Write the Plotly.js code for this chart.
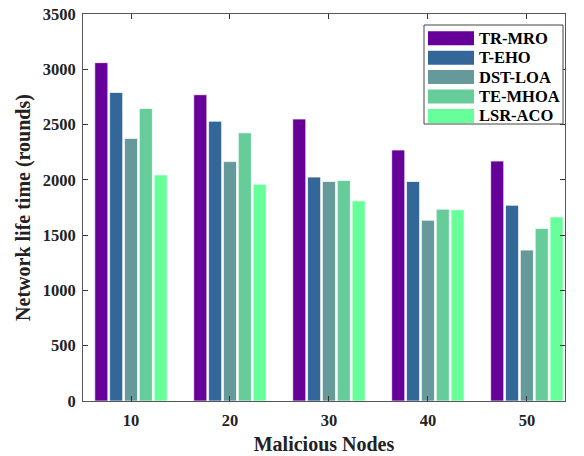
<!DOCTYPE html>
<html>
<head>
<meta charset="utf-8">
<script src="https://cdn.plot.ly/plotly-3.0.1.min.js"></script>
<style>html,body{margin:0;padding:0;background:#fff;}#chart{width:584px;height:456px;}</style>
</head>
<body>
<div id="chart"></div>
<script>
const categories = ['10', '20', '30', '40', '50'];
const seriesNames = ['TR-MRO', 'T-EHO', 'DST-LOA', 'TE-MHOA', 'LSR-ACO'];
const trMro  = [3060, 2770, 2550, 2270, 2170];
const tEho   = [2790, 2530, 2025, 1985, 1770];
const dstLoa = [2375, 2165, 1985, 1635, 1365];
const teMhoa = [2645, 2425, 1995, 1735, 1560];
const lsrAco = [2045, 1960, 1810, 1730, 1665];
const yTicks = [0, 500, 1000, 1500, 2000, 2500, 3000, 3500];

const seriesValues = [trMro, tEho, dstLoa, teMhoa, lsrAco];
const colors = ['#660099', '#336699', '#669999', '#66CC99', '#66FF99'];

const W = 584, H = 456;
const M = {l: 83, r: 19, t: 14, b: 55};
const pw = W - M.l - M.r, ph = H - M.t - M.b;
const px2x = px => (px - M.l) / pw;
const py2y = py => (H - M.b - py) / ph;

const serif = 'Liberation Serif, Times New Roman, serif';
const txt = '#222';

const traces = seriesNames.map((name, i) => ({
  type: 'bar',
  name: name,
  x: categories,
  y: seriesValues[i],
  marker: {color: colors[i], line: {color: 'rgba(255,255,255,0.7)', width: 1}},
  showlegend: false,
  hoverinfo: 'x+y+name'
}));

const shapes = [{
  type: 'rect', xref: 'paper', yref: 'paper',
  x0: px2x(424), x1: px2x(563), y0: py2y(124), y1: py2y(25),
  line: {color: '#444', width: 1}, fillcolor: 'white', layer: 'above'
}];
const annotations = [];
seriesNames.forEach((name, i) => {
  const cy = 38.3 + i * 19.4;
  shapes.push({
    type: 'rect', xref: 'paper', yref: 'paper',
    x0: px2x(428), x1: px2x(474), y0: py2y(cy + 7), y1: py2y(cy - 7),
    line: {width: 0}, fillcolor: colors[i], layer: 'above'
  });
  annotations.push({
    xref: 'paper', yref: 'paper', x: px2x(477), y: py2y(cy),
    xanchor: 'left', yanchor: 'middle', showarrow: false,
    text: name, font: {family: serif, size: 16.5, color: '#000', weight: 'bold'}
  });
});

const layout = {
  width: W, height: H,
  margin: M,
  paper_bgcolor: 'white', plot_bgcolor: 'white',
  barmode: 'group', bargap: 0.25, bargroupgap: 0.12,
  font: {family: serif, size: 16.5, color: txt, weight: 'bold'},
  xaxis: {
    type: 'category',
    range: [-0.485, 4.385],
    showline: true, linecolor: '#555', linewidth: 1, mirror: 'ticks',
    ticks: 'inside', ticklen: 5, tickcolor: '#333', tickwidth: 1,
    ticklabelstandoff: 4,
    showgrid: false, zeroline: false,
    tickfont: {family: serif, size: 16.5, color: txt, weight: 'bold'},
    title: {text: 'Malicious Nodes', font: {family: serif, size: 20, color: txt, weight: 'bold'}, standoff: 8}
  },
  yaxis: {
    range: [0, 3500],
    tickvals: yTicks,
    showline: true, linecolor: '#555', linewidth: 1, mirror: 'ticks',
    ticks: 'inside', ticklen: 5, tickcolor: '#333', tickwidth: 1,
    ticklabelstandoff: 3,
    showgrid: false, zeroline: false,
    tickfont: {family: serif, size: 16.5, color: txt, weight: 'bold'},
    title: {text: 'Network life time (rounds)', font: {family: serif, size: 20, color: txt, weight: 'bold'}, standoff: 6}
  },
  shapes: shapes,
  annotations: annotations
};

Plotly.newPlot('chart', traces, layout, {displayModeBar: false, staticPlot: true});
</script>
</body>
</html>
